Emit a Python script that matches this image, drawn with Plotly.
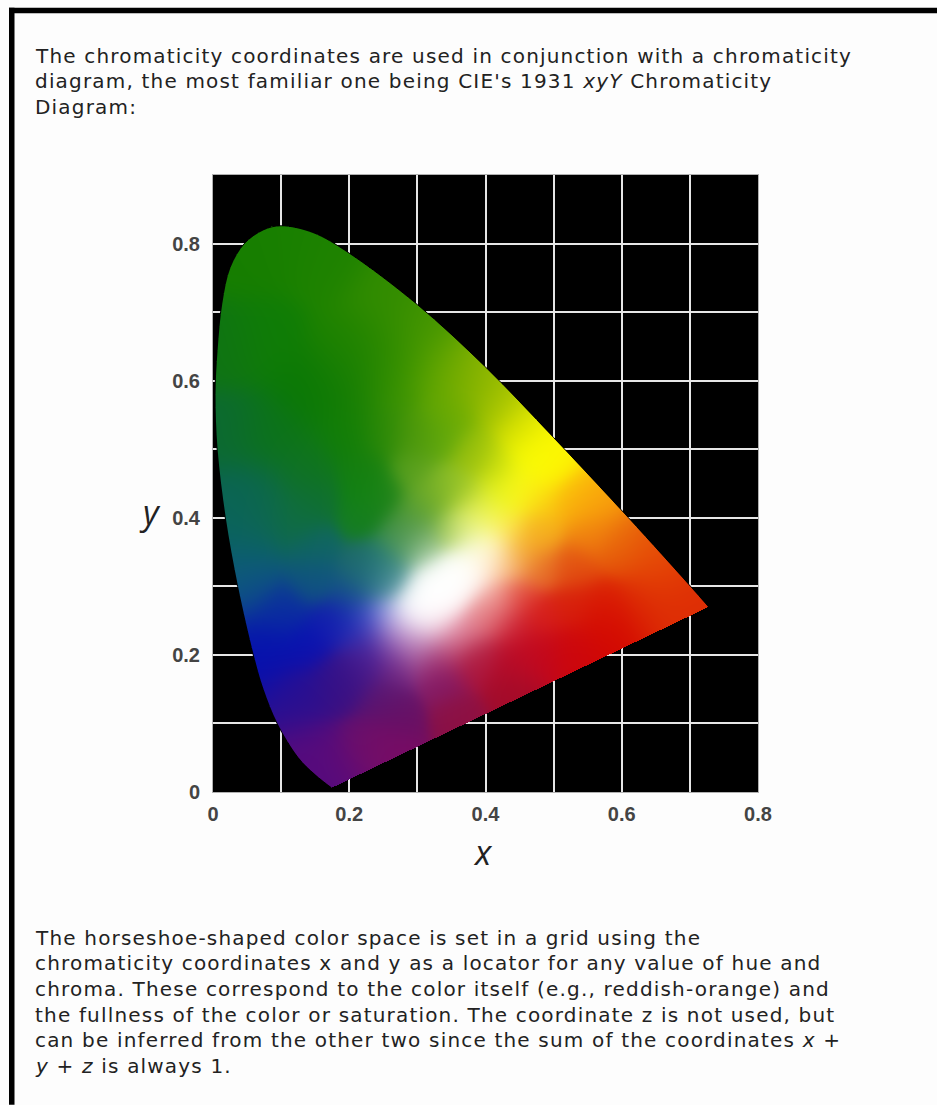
import numpy as np
import plotly.graph_objects as go

# gamut outline, bottom tip -> peak -> right tip
locus_x = [0.174, 0.150, 0.125, 0.094, 0.0735, 0.059, 0.036, 0.018, 0.006, 0.003, 0.006, 0.013, 0.025, 0.046, 0.074,
           0.100, 0.147, 0.200, 0.300, 0.400, 0.500, 0.610, 0.701, 0.7275]
locus_y = [0.006, 0.025, 0.050, 0.100, 0.150, 0.200, 0.300, 0.400, 0.500, 0.580, 0.644, 0.713, 0.765, 0.800, 0.820,
           0.826, 0.816, 0.786, 0.711, 0.620, 0.517, 0.400, 0.300, 0.270]

# colours sampled by eye at points inside the gamut, same line breaks in all five lists
anchor_x = [0.05, 0.10, 0.17, 0.25, 0.30, 0.334, 0.382, 0.42, 0.456, 0.50, 0.48, 0.456,
            0.02, 0.074, 0.143, 0.197, 0.22, 0.294, 0.344, 0.20, 0.27, 0.334, 0.382, 0.42,
            0.02, 0.08, 0.14, 0.25, 0.20, 0.25, 0.35, 0.294, 0.25, 0.30, 0.323, 0.373, 0.421, 0.446,
            0.025, 0.05, 0.074, 0.123, 0.15, 0.223, 0.22, 0.05, 0.15, 0.22, 0.275, 0.25, 0.25, 0.264, 0.226, 0.05, 0.15, 0.206,
            0.10, 0.175, 0.21, 0.23, 0.255, 0.135, 0.076, 0.125, 0.198, 0.248, 0.223, 0.15, 0.257, 0.172, 0.172,
            0.22, 0.27, 0.25, 0.226, 0.275, 0.264, 0.30, 0.30,
            0.34, 0.36, 0.27, 0.323, 0.348, 0.338, 0.373, 0.397, 0.382, 0.432, 0.446, 0.48, 0.432, 0.53,
            0.446, 0.421, 0.446, 0.48, 0.579, 0.58, 0.64, 0.70, 0.53, 0.48, 0.48, 0.554, 0.603, 0.653, 0.554, 0.48, 0.53, 0.53,
            0.397, 0.411, 0.411, 0.436, 0.455, 0.436, 0.421, 0.397, 0.388, 0.373, 0.348, 0.308,
            0.285, 0.30, 0.32, 0.34, 0.36, 0.382, 0.31, 0.33, 0.35, 0.37, 0.30, 0.32, 0.395, 0.407,
            0.28, 0.30, 0.49, 0.47]
anchor_y = [0.78, 0.80, 0.77, 0.72, 0.67, 0.615, 0.60, 0.57, 0.53, 0.49, 0.47, 0.445,
            0.65, 0.663, 0.59, 0.517, 0.47, 0.517, 0.445, 0.65, 0.60, 0.517, 0.494, 0.47,
            0.52, 0.52, 0.47, 0.52, 0.60, 0.65, 0.56, 0.47, 0.43, 0.407, 0.43, 0.43, 0.43, 0.44,
            0.40, 0.43, 0.40, 0.40, 0.43, 0.44, 0.40, 0.357, 0.357, 0.33, 0.357, 0.334, 0.31, 0.31, 0.31, 0.31, 0.31, 0.284,
            0.26, 0.246, 0.246, 0.25, 0.26, 0.21, 0.203, 0.138, 0.163, 0.138, 0.066, 0.057, 0.066, 0.02, 0.158,
            0.183, 0.183, 0.211, 0.222, 0.222, 0.236, 0.211, 0.226,
            0.16, 0.114, 0.11, 0.192, 0.211, 0.236, 0.236, 0.203, 0.183, 0.183, 0.197, 0.207, 0.153, 0.21,
            0.235, 0.25, 0.284, 0.255, 0.24, 0.27, 0.28, 0.28, 0.328, 0.328, 0.378, 0.378, 0.353, 0.33, 0.43, 0.426, 0.426, 0.27,
            0.26, 0.284, 0.334, 0.334, 0.357, 0.382, 0.397, 0.407, 0.392, 0.382, 0.382, 0.348,
            0.25, 0.265, 0.28, 0.30, 0.32, 0.338, 0.25, 0.27, 0.29, 0.31, 0.285, 0.305, 0.355, 0.367,
            0.38, 0.37, 0.50, 0.49]
anchor_r = [22, 25, 30, 50, 70, 95, 140, 165, 210, 255, 255, 250,
            15, 15, 10, 15, 20, 75, 140, 30, 55, 90, 150, 190,
            12, 12, 15, 40, 22, 40, 105, 90, 30, 90, 110, 170, 225, 255,
            10, 10, 15, 15, 15, 15, 20, 10, 15, 30, 70, 30, 60, 100, 25, 15, 15, 20,
            10, 15, 20, 75, 150, 5, 5, 40, 55, 90, 110, 85, 125, 85, 50,
            70, 115, 90, 60, 150, 195, 165, 220,
            130, 140, 100, 150, 190, 240, 225, 180, 170, 180, 190, 195, 160, 205,
            200, 215, 225, 215, 210, 218, 220, 222, 225, 230, 245, 240, 230, 232, 250, 250, 250, 215,
            230, 245, 255, 245, 245, 250, 255, 230, 245, 220, 150, 190,
            255, 255, 255, 255, 255, 255, 255, 255, 255, 255, 255, 255, 255, 255,
            60, 110, 255, 250]
anchor_g = [125, 128, 130, 140, 150, 165, 180, 195, 220, 255, 255, 250,
            115, 125, 120, 125, 125, 150, 190, 130, 145, 165, 190, 215,
            105, 115, 115, 135, 125, 135, 170, 160, 130, 160, 170, 205, 240, 255,
            100, 100, 105, 110, 110, 130, 125, 95, 100, 105, 145, 120, 130, 160, 100, 85, 85, 75,
            45, 25, 40, 90, 165, 15, 15, 15, 15, 20, 15, 10, 10, 10, 15,
            25, 40, 40, 30, 80, 165, 90, 180,
            25, 15, 15, 40, 70, 190, 130, 35, 20, 10, 10, 5, 10, 5,
            25, 70, 70, 30, 5, 25, 45, 45, 75, 110, 175, 130, 95, 75, 165, 200, 175, 30,
            140, 185, 225, 180, 170, 210, 255, 240, 250, 235, 195, 220,
            255, 255, 255, 255, 255, 255, 255, 255, 255, 255, 255, 255, 255, 255,
            140, 165, 245, 255]
anchor_b = [0, 0, 0, 0, 0, 0, 0, 0, 0, 0, 0, 25,
            20, 5, 5, 5, 15, 10, 40, 0, 0, 10, 10, 10,
            50, 25, 30, 5, 5, 0, 0, 30, 25, 50, 40, 40, 30, 20,
            90, 80, 75, 60, 50, 15, 30, 110, 100, 100, 90, 110, 140, 170, 130, 130, 125, 140,
            160, 175, 180, 210, 230, 180, 175, 145, 130, 110, 105, 125, 100, 125, 135,
            140, 130, 150, 155, 170, 220, 155, 215,
            100, 65, 100, 110, 110, 210, 150, 70, 60, 40, 35, 25, 40, 10,
            45, 85, 60, 25, 0, 2, 5, 5, 15, 40, 25, 15, 10, 5, 10, 15, 10, 10,
            145, 175, 195, 110, 40, 60, 60, 70, 120, 140, 80, 190,
            255, 255, 255, 255, 255, 250, 255, 255, 255, 250, 255, 255, 235, 210,
            60, 95, 0, 0]

para_top = [
    "The chromaticity coordinates are used in conjunction with a chromaticity",
    "diagram, the most familiar one being CIE's 1931 <i>xyY</i> Chromaticity",
    "Diagram:",
]
para_bottom = [
    "The horseshoe-shaped color space is set in a grid using the",
    "chromaticity coordinates x and y as a locator for any value of hue and",
    "chroma. These correspond to the color itself (e.g., reddish-orange) and",
    "the fullness of the color or saturation. The coordinate z is not used, but",
    "can be inferred from the other two since the sum of the coordinates <i>x</i> +",
    "<i>y</i> + <i>z</i> is always 1.",
]

# pixel box of the plot area
L, R, T, B = 213, 758, 174.5, 792
NX, NY = 545, 617


def px(v):
    return (v - L) / (R - L)


def py(v):
    return (B - v) / (B - T)


def dense_outline(xs, ys, n=16):
    # catmull-rom through the outline so the mask edge is not faceted
    p = np.column_stack([xs, ys])
    p = np.vstack([p[0], p, p[-1]])
    out = []
    for i in range(1, len(p) - 2):
        for t in np.linspace(0, 1, n, endpoint=False):
            out.append(0.5 * (2 * p[i] + (p[i + 1] - p[i - 1]) * t
                              + (2 * p[i - 1] - 5 * p[i] + 4 * p[i + 1] - p[i + 2]) * t ** 2
                              + (3 * p[i] - p[i - 1] - 3 * p[i + 1] + p[i + 2]) * t ** 3))
    out.append(p[-1])
    return np.array(out)


dx, dy = 0.8 / NX, 0.9 / NY
gx, gy = np.meshgrid(dx * (np.arange(NX) + 0.5), dy * (np.arange(NY) + 0.5))

# inside test against the outline
poly = dense_outline(locus_x, locus_y)
inside = np.zeros(gx.shape, dtype=bool)
x1, y1 = poly[:, 0], poly[:, 1]
x2, y2 = np.roll(x1, -1), np.roll(y1, -1)
for a, b, c, d in zip(x1, y1, x2, y2):
    if b == d:
        continue
    hit = ((b > gy) != (d > gy)) & (gx < (c - a) * (gy - b) / (d - b) + a)
    inside ^= hit

ax_arr, ay_arr = np.array(anchor_x), np.array(anchor_y)
rgb = np.column_stack([anchor_r, anchor_g, anchor_b]).astype(float)


def blend(sigma):
    # gaussian weighted mix of the sampled colours
    num = np.zeros(gx.shape + (3,))
    den = np.zeros(gx.shape)
    for i in range(len(ax_arr)):
        w = np.exp(-((gx - ax_arr[i]) ** 2 + (gy - ay_arr[i]) ** 2) / (2 * sigma ** 2)) + 1e-30
        num += w[..., None] * rgb[i]
        den += w
    return num / den[..., None]


# sharp around the white core, softer further out where samples are sparse
fine, coarse = blend(0.022), blend(0.036)
dist = np.hypot(gx - 0.34, gy - 0.30)
mix = np.clip((dist - 0.15) / 0.15, 0, 1)[..., None]
colour = fine * (1 - mix) + coarse * mix
img = np.dstack([colour, inside * 255.0])
img = np.clip(np.round(img), 0, 255).astype(int)

fig = go.Figure()
fig.add_trace(go.Image(z=img.tolist(), colormodel="rgba", x0=dx / 2, dx=dx, y0=dy / 2, dy=dy, hoverinfo="skip"))
fig.add_trace(go.Scatter(x=locus_x, y=locus_y, mode="lines", line=dict(color="black", width=1, shape="spline"),
                         hoverinfo="skip", showlegend=False))

grid = dict(showgrid=True, gridcolor="#e6e6e6", gridwidth=1.5, griddash="solid")
tick_font = dict(family="Liberation Sans", size=20, color="#444444", weight="bold")
fig.update_xaxes(range=[0, 0.8], dtick=0.2, tick0=0, minor=dict(dtick=0.1, **grid), tickformat="~g",
                 tickfont=tick_font, ticks="", ticklabelstandoff=4, zeroline=False, constrain="range",
                 showline=True, mirror=True, linecolor="#b0b0b0", linewidth=1, **grid)
fig.update_yaxes(range=[0, 0.9], dtick=0.2, tick0=0, minor=dict(dtick=0.1, **grid), tickformat="~g",
                 tickfont=tick_font, ticks="", ticklabelstandoff=8, zeroline=False, scaleanchor=False,
                 showline=True, mirror=True, linecolor="#b0b0b0", linewidth=1, **grid)

text_style = dict(xref="paper", yref="paper", showarrow=False, xanchor="left", yanchor="middle", align="left",
                  borderpad=0, font=dict(family="DejaVu Sans", size=20, color="#222222"))
for i, line in enumerate(para_top):
    fig.add_annotation(x=px(34), y=py(55 + 25.8 * i), text=f'<span style="letter-spacing:1.18px">{line}</span>',
                       **text_style)
for i, line in enumerate(para_bottom):
    fig.add_annotation(x=px(34), y=py(938 + 25.6 * i), text=f'<span style="letter-spacing:1.18px">{line}</span>',
                       **text_style)
title_font = dict(family="Open Sans", size=34, color="#222222")
title_style = dict(xref="paper", yref="paper", showarrow=False, xanchor="center", yanchor="middle", font=title_font)
fig.add_annotation(x=px(483), y=py(852), text="<i>x</i>", **title_style)
fig.add_annotation(x=px(150), y=py(512), text="<i>y</i>", **title_style)

# black page frame, top and left
frame = dict(type="rect", xref="paper", yref="paper", fillcolor="black", line_width=0, layer="below")
fig.add_shape(x0=px(9), x1=px(937), y0=py(7), y1=py(12.5), **frame)
fig.add_shape(x0=px(9), x1=px(14.5), y0=py(7), y1=py(1105), **frame)

fig.update_layout(
    width=937, height=1105, autosize=False, showlegend=False,
    margin=dict(l=L, r=937 - R, t=T, b=1105 - B, pad=0),
    paper_bgcolor="#fdfdfd", plot_bgcolor="black",
)
fig.write_html("out.html", config=dict(displayModeBar=False),
               post_script="document.body.style.margin='0';document.body.style.overflow='hidden';")
